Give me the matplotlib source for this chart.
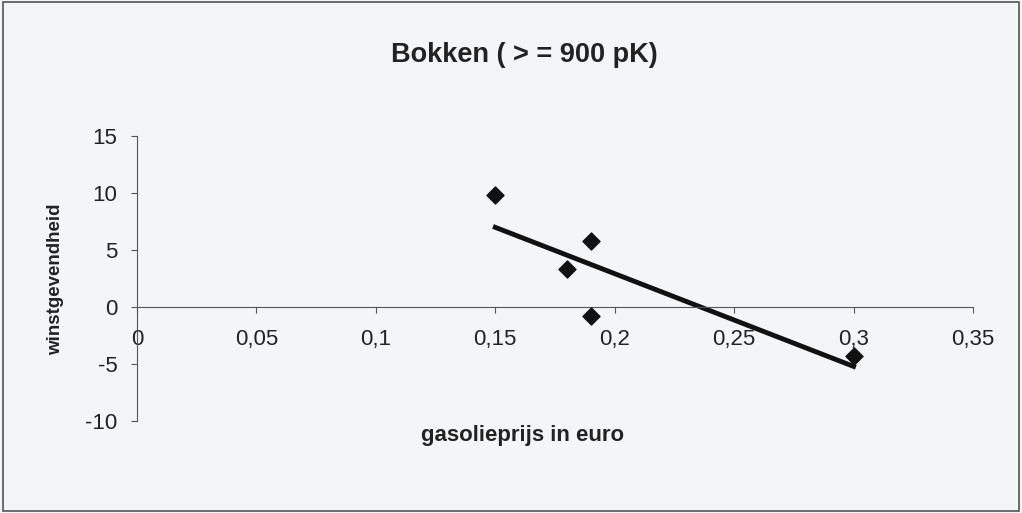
import numpy as np
import matplotlib.pyplot as plt
from matplotlib.patches import Rectangle

# prices (euro) and profitability
prijs = [0.15, 0.18, 0.19, 0.19, 0.30]
winst = [9.8, 3.3, 5.8, -0.8, -4.3]
xticks = [0, 0.05, 0.1, 0.15, 0.2, 0.25, 0.3, 0.35]
xticklabels = ['0', '0,05', '0,1', '0,15', '0,2', '0,25', '0,3', '0,35']
yticks = [-10, -5, 0, 5, 10, 15]

plt.rcParams['font.family'] = ['Liberation Sans', 'DejaVu Sans']
plt.rcParams['axes.unicode_minus'] = False

fig = plt.figure(figsize=(10.22, 5.13), dpi=100)
fig.patch.set_facecolor('#f4f5f7')
fig.patches.append(Rectangle((0.003, 0.004), 0.994, 0.992, transform=fig.transFigure,
                             fill=False, edgecolor='#555555', linewidth=1.2))

ax = fig.add_axes([137/1022, 1 - 421/513, (973 - 137)/1022, (421 - 136)/513])
ax.set_facecolor('none')
ax.set_xlim(0, 0.35)
ax.set_ylim(-10, 15)

ax.scatter(prijs, winst, marker='D', s=75, color='#111111', zorder=3)

# linear trendline
k, b = np.polyfit(prijs, winst, 1)
xs = np.array([min(prijs), max(prijs)])
ax.plot(xs, k * xs + b, color='#111111', linewidth=3.5, zorder=2)

for s in ['top', 'right']:
    ax.spines[s].set_visible(False)
ax.spines['left'].set_position(('data', 0))
ax.spines['bottom'].set_position(('data', 0))
ax.spines['left'].set_color('#555555')
ax.spines['bottom'].set_color('#555555')

ax.set_xticks(xticks)
ax.set_xticklabels(xticklabels)
ax.set_yticks(yticks)
ax.tick_params(axis='both', colors='#555555', labelcolor='#222222', labelsize=16,
               direction='out', length=4)
ax.tick_params(axis='x', pad=12)
ax.tick_params(axis='y', pad=10)

fig.text(0.513, 1 - 55/513, 'Bokken ( > = 900 pK)', ha='center', va='center',
         fontsize=19.5, fontweight='bold', color='#222222')
fig.text(0.511, 1 - 436/513, 'gasolieprijs in euro', ha='center', va='center',
         fontsize=16, fontweight='bold', color='#222222')
fig.text(56/1022, 1 - 279/513, 'winstgevendheid', ha='center', va='center',
         rotation=90, fontsize=13.5, fontweight='bold', color='#222222')

fig.savefig('out.png', dpi=100, facecolor=fig.get_facecolor())
